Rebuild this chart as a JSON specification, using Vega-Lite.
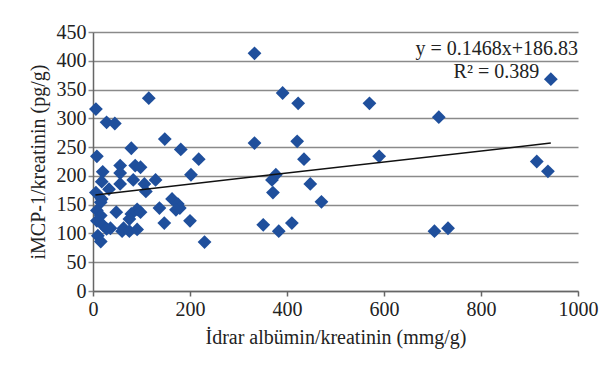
{
  "$schema": "https://vega.github.io/schema/vega-lite/v6.json",
  "autosize": {"type": "none"},
  "padding": {"left": 93, "top": 32, "right": 25, "bottom": 77},
  "width": 485,
  "height": 259,
  "background": "white",
  "config": {
    "view": {"stroke": null},
    "font": "Liberation Serif",
    "axis": {"labelFont": "Liberation Serif", "titleFont": "Liberation Serif", "labelFontSize": 20, "titleFontSize": 20, "titleFontWeight": "normal", "labelColor": "#222", "titleColor": "#222", "labelOverlap": false, "labelFlush": false}
  },
  "datasets": {
    "pts": [
      {"x": 333, "y": 413}, {"x": 944, "y": 368}, {"x": 115, "y": 335}, {"x": 6, "y": 316},
      {"x": 391, "y": 344}, {"x": 423, "y": 326}, {"x": 570, "y": 326}, {"x": 713, "y": 302},
      {"x": 28, "y": 293}, {"x": 45, "y": 291}, {"x": 148, "y": 264}, {"x": 333, "y": 257},
      {"x": 421, "y": 260}, {"x": 79, "y": 248}, {"x": 181, "y": 246}, {"x": 8, "y": 234},
      {"x": 590, "y": 234}, {"x": 218, "y": 229}, {"x": 435, "y": 229}, {"x": 915, "y": 225},
      {"x": 938, "y": 208}, {"x": 56, "y": 218}, {"x": 87, "y": 218}, {"x": 98, "y": 215},
      {"x": 20, "y": 207}, {"x": 56, "y": 205}, {"x": 202, "y": 202}, {"x": 377, "y": 202},
      {"x": 369, "y": 193}, {"x": 83, "y": 193}, {"x": 129, "y": 193}, {"x": 18, "y": 190},
      {"x": 106, "y": 186}, {"x": 56, "y": 186}, {"x": 448, "y": 186}, {"x": 33, "y": 177},
      {"x": 109, "y": 173}, {"x": 6, "y": 171}, {"x": 371, "y": 171}, {"x": 18, "y": 160},
      {"x": 163, "y": 160}, {"x": 471, "y": 155}, {"x": 16, "y": 154}, {"x": 175, "y": 151},
      {"x": 137, "y": 144}, {"x": 179, "y": 144}, {"x": 91, "y": 142}, {"x": 48, "y": 137},
      {"x": 8, "y": 140}, {"x": 79, "y": 134}, {"x": 98, "y": 137}, {"x": 16, "y": 131},
      {"x": 171, "y": 141}, {"x": 75, "y": 125}, {"x": 8, "y": 122}, {"x": 200, "y": 122},
      {"x": 147, "y": 118}, {"x": 351, "y": 115}, {"x": 410, "y": 118}, {"x": 21, "y": 114},
      {"x": 36, "y": 109}, {"x": 63, "y": 109}, {"x": 732, "y": 109}, {"x": 704, "y": 104},
      {"x": 383, "y": 104}, {"x": 60, "y": 104}, {"x": 75, "y": 104}, {"x": 91, "y": 107},
      {"x": 28, "y": 108}, {"x": 10, "y": 96}, {"x": 16, "y": 86}, {"x": 230, "y": 85}
    ],
    "trend": [{"x": 5, "y": 167}, {"x": 944, "y": 257}],
    "labels": [
      {"x": 1000, "y": 420, "t": "y = 0.1468x+186.83"},
      {"x": 920, "y": 380, "t": "R² = 0.389"}
    ]
  },
  "encoding": {
    "x": {"field": "x", "type": "quantitative", "scale": {"domain": [0, 1000], "nice": false},
      "axis": {"values": [0, 200, 400, 600, 800, 1000], "format": "d", "grid": false, "title": "İdrar albümin/kreatinin (mmg/g)", "domainColor": "#666", "domainWidth": 1.5, "tickColor": "#666", "tickSize": 5, "tickWidth": 1.5, "labelPadding": 3, "titlePadding": 8}},
    "y": {"field": "y", "type": "quantitative", "scale": {"domain": [0, 450], "nice": false},
      "axis": {"values": [0, 50, 100, 150, 200, 250, 300, 350, 400, 450], "format": "d", "grid": true, "gridColor": "#8a8a8a", "gridWidth": 1.5, "title": "iMCP-1/kreatinin (pg/g)", "domainColor": "#666", "domainWidth": 1.5, "tickColor": "#8a8a8a", "tickSize": 5, "tickWidth": 1.5, "labelPadding": 2, "titlePadding": 8}}
  },
  "layer": [
    {
      "data": {"name": "pts"},
      "mark": {"type": "point", "shape": "diamond", "filled": true, "size": 190, "color": "#1f4f9c", "opacity": 1}
    },
    {
      "data": {"name": "trend"},
      "mark": {"type": "line", "color": "#111", "strokeWidth": 1.5}
    },
    {
      "data": {"name": "labels"},
      "mark": {"type": "text", "align": "right", "baseline": "middle", "fontSize": 20, "font": "Liberation Serif", "color": "#222"},
      "encoding": {
        "text": {"field": "t"}
      }
    }
  ]
}
